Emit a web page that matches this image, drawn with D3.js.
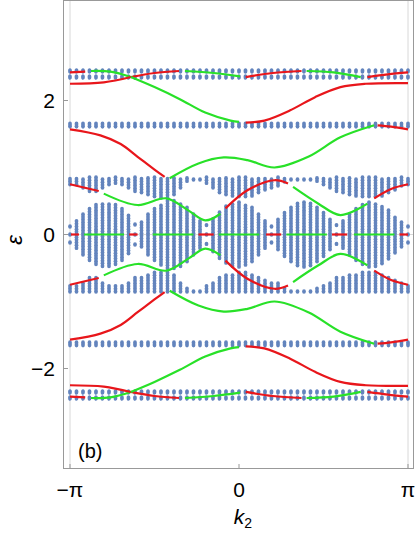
<!DOCTYPE html><html><head><meta charset="utf-8">
<script src="https://cdn.jsdelivr.net/npm/d3@7"></script>
<style>body{margin:0;background:#fff}</style></head><body>
<svg id="c" width="415" height="535"></svg>
<script>
// k in units of pi
const nCols = 53;
const bandA = [2.35, 2.44];           // thin top band rows
const bandB = [1.615, 1.65];
const upperTop = 0.85;
const upperDepth = [0.1,0.1,0.15,0.2,0.2,0.15,0.1,0.08,0.1,0.15,0.2,0.22,0.25,0.28,0.3,0.3,0.25,0.15,0.05,0.03,0.03,0.08,0.15,0.22,0.25,0.27,0.28,0.28,0.27,0.22,0.18,0.15,0.12,0.06,0.03,0.03,0.03,0.03,0.05,0.1,0.15,0.2,0.22,0.25,0.27,0.28,0.28,0.28,0.27,0.22,0.18,0.12,0.1];
const centralHalf = [0.12,0.2,0.3,0.38,0.44,0.47,0.47,0.44,0.38,0.28,0.15,0.18,0.3,0.38,0.45,0.5,0.5,0.47,0.4,0.3,0.2,0.14,0.25,0.35,0.42,0.47,0.48,0.45,0.4,0.3,0.2,0.12,0.22,0.32,0.4,0.46,0.48,0.46,0.4,0.32,0.22,0.14,0.2,0.3,0.38,0.44,0.48,0.47,0.43,0.36,0.27,0.18,0.12];
// curve segments on positive side (mirrored to negative side with same colour)
const segments = [
 {c:"red",   p:[[-1,2.42],[-0.91,2.43]]},
 {c:"green", p:[[-0.876,2.44],[-0.76,2.43],[-0.64,2.35]]},
 {c:"red",   p:[[-0.64,2.35],[-0.5,2.41],[-0.355,2.44]]},
 {c:"green", p:[[-0.32,2.44],[-0.15,2.41],[0.006,2.36]]},
 {c:"red",   p:[[0.04,2.35],[0.2,2.41],[0.37,2.44]]},
 {c:"green", p:[[0.4,2.44],[0.56,2.42],[0.72,2.35]]},
 {c:"red",   p:[[0.76,2.35],[0.88,2.39],[1.0,2.42]]},
 {c:"red",   p:[[-1,2.25],[-0.8,2.27],[-0.64,2.35]]},
 {c:"green", p:[[-0.64,2.35],[-0.5,2.2],[-0.35,2.02],[-0.2,1.82],[-0.05,1.7],[0.0,1.68]]},
 {c:"red",   p:[[0.04,1.67],[0.15,1.7],[0.3,1.85],[0.45,2.05],[0.6,2.2],[0.75,2.25],[1.0,2.26]]},
 {c:"red",   p:[[-1,1.57],[-0.82,1.48],[-0.7,1.35],[-0.6,1.16],[-0.5,0.97],[-0.44,0.86]]},
 {c:"green", p:[[-0.41,0.84],[-0.24,1.06],[-0.09,1.15],[0.05,1.11],[0.21,1.0],[0.41,1.16],[0.6,1.45],[0.8,1.63]]},
 {c:"red",   p:[[0.82,1.63],[0.9,1.61],[1.0,1.57]]},
 {c:"red",   p:[[-1,0.75],[-0.83,0.65]]},
 {c:"green", p:[[-0.8,0.61],[-0.6,0.44],[-0.43,0.54],[-0.3,0.36],[-0.2,0.21],[-0.11,0.31]]},
 {c:"red",   p:[[-0.08,0.39],[0.05,0.66],[0.21,0.81],[0.29,0.76]]},
 {c:"green", p:[[0.32,0.71],[0.47,0.46],[0.6,0.29],[0.76,0.46]]},
 {c:"red",   p:[[0.8,0.54],[0.9,0.68],[1.0,0.75]]}
];
const zeroSegs = [["red",-0.994,-0.947],["green",-0.917,-0.68],["red",-0.65,-0.6],["green",-0.51,-0.27],["red",-0.24,-0.15],["green",-0.12,0.12],["red",0.16,0.25],["green",0.28,0.52],["red",0.55,0.64],["green",0.68,0.92],["red",0.95,1.0]];
const xTicks = [[-1,"\u2212\u03c0"],[0,"0"],[1,"\u03c0"]];
const yTicks = [[2,"2"],[0,"0"],[-2,"\u22122"]];

const svg = d3.select("#c");
const x = d3.scaleLinear([-1,1],[70,408]);
const y = d3.scaleLinear([-3.5,3.5],[469,0]);
const colors = {red:"#e8161b", green:"#28e128"};
const blue = "#6384bd";
const R = 1.9;

// grid
[-1,1].forEach(v=>svg.append("line").attr("x1",x(v)).attr("x2",x(v)).attr("y1",1).attr("y2",468).attr("stroke","#d8d8d8"));
svg.append("line").attr("x1",64).attr("x2",413).attr("y1",y(0)).attr("y2",y(0)).attr("stroke","#d8d8d8");

// dots
const g = svg.append("g").attr("fill",blue);
function col(k, lo, hi){
  for(let e=lo; e<=hi+1e-9; e+=0.04) g.append("ellipse").attr("cx",x(k)).attr("cy",y(e)).attr("rx",R).attr("ry",2.2);
}
for(let i=0;i<nCols;i++){
  const k = -1 + 2*i/(nCols-1);
  [1,-1].forEach(s=>{
    bandA.forEach(v=>g.append("ellipse").attr("cx",x(k)).attr("cy",y(s*v)).attr("rx",R).attr("ry",2.8));
    bandB.forEach(v=>g.append("ellipse").attr("cx",x(k)).attr("cy",y(s*v)).attr("rx",R).attr("ry",2.4));
    const lo = upperTop-upperDepth[i];
    if(s>0) col(k, lo, upperTop); else col(k, -upperTop, -lo);
  });
  const h = centralHalf[i];
  if(h<0.16){ [0,h,-h].forEach(v=>g.append("ellipse").attr("cx",x(k)).attr("cy",y(v)).attr("rx",R).attr("ry",2.2)); }
  else col(k,-h,h);
}

// curves
const line = d3.line().x(d=>x(d[0])).y(d=>y(d[1])).curve(d3.curveCatmullRom);
segments.forEach(s=>{
  [1,-1].forEach(m=>{
    svg.append("path").attr("d",line(s.p.map(d=>[d[0],m*d[1]]))).attr("fill","none").attr("stroke",colors[s.c]).attr("stroke-width",2.2);
  });
});
zeroSegs.forEach(s=>svg.append("line").attr("x1",x(s[1])).attr("x2",x(s[2])).attr("y1",y(0)).attr("y2",y(0)).attr("stroke",colors[s[0]]).attr("stroke-width",2.2));

// frame
svg.append("rect").attr("x",63.5).attr("y",0.5).attr("width",350).attr("height",468).attr("fill","none").attr("stroke","#999");
yTicks.forEach(t=>{
  svg.append("line").attr("x1",63.5).attr("x2",68).attr("y1",y(t[0])).attr("y2",y(t[0])).attr("stroke","#999");
  svg.append("text").attr("x",55).attr("y",y(t[0])+7).attr("text-anchor","end").attr("font-family","Liberation Sans, Arial").attr("font-size",21).text(t[1]);
});
xTicks.forEach(t=>{
  svg.append("line").attr("x1",x(t[0])).attr("x2",x(t[0])).attr("y1",468.5).attr("y2",464).attr("stroke","#999");
  svg.append("text").attr("x",x(t[0])).attr("y",497).attr("text-anchor","middle").attr("font-family","Liberation Sans, Arial").attr("font-size",21).text(t[1]);
});
svg.append("text").attr("x",243).attr("y",524).attr("text-anchor","middle").attr("font-family","Liberation Sans, Arial").attr("font-size",21).attr("font-style","italic").html('k<tspan font-size="14" dy="4" font-style="normal">2</tspan>');
svg.append("text").attr("transform","translate(22,240) rotate(-90)").attr("text-anchor","middle").attr("font-family","Liberation Sans, Arial").attr("font-size",22).attr("font-style","italic").text("\u03b5");
svg.append("text").attr("x",78).attr("y",458).attr("font-family","Liberation Sans, Arial").attr("font-size",20).text("(b)");
</script></body></html>
